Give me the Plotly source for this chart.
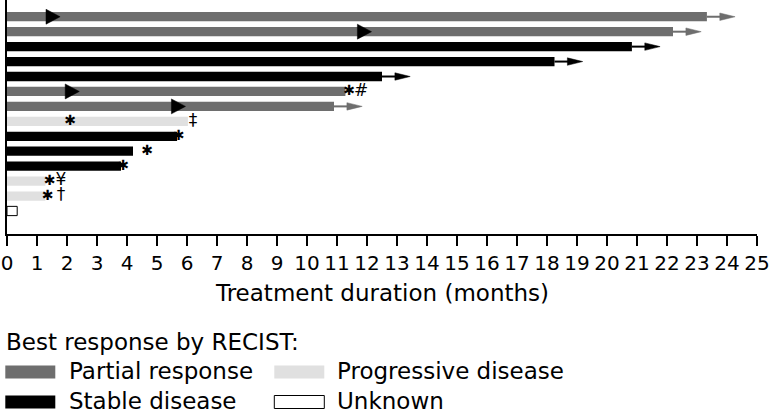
import plotly.graph_objects as go

# ---- data (rows listed top to bottom) ----
patients = list(range(14))
best_response = ["Partial response", "Partial response", "Stable disease", "Stable disease",
                 "Stable disease", "Partial response", "Partial response", "Progressive disease",
                 "Stable disease", "Stable disease", "Stable disease", "Progressive disease",
                 "Progressive disease", "Unknown"]
duration_months = [23.33, 22.2, 20.83, 18.25, 12.5, 11.28, 10.9, 6.03, 5.67, 4.2, 3.8, 1.28, 1.28, 0.34]
ongoing = [True, True, True, True, True, False, True, False, False, False, False, False, False, False]
response_onset = [1.3, 11.68, None, None, None, 1.94, 5.48, None, None, None, None, None, None, None]
star_months = [None, None, None, None, None, 11.4, None, 2.1, 5.72, 4.67, 3.87, 1.42, 1.35, None]
note_symbol = ["", "", "", "", "", "#", "", "\u2021", "", "", "", "\u00a5", "\u2020", ""]
note_months = [None, None, None, None, None, 11.8, None, 6.2, None, None, None, 1.8, 1.8, None]
x_ticks = list(range(0, 26))

# ---- styles ----
FONT = "DejaVu Sans"
colors = {"Partial response": "#6e6e6e", "Stable disease": "#000000",
          "Progressive disease": "#e0e0e0", "Unknown": "#ffffff"}
order = ["Partial response", "Stable disease", "Progressive disease", "Unknown"]
BAR_W = 0.62
ARROW_TAIL = 0.43
ARROW_TIP = 0.94
ARROW_HALF = 0.25
TRI_LEN = 0.47
TRI_HALF = 0.5

fig = go.Figure()

for cat in order:
    xs = [d for d, c in zip(duration_months, best_response) if c == cat]
    ys = [p for p, c in zip(patients, best_response) if c == cat]
    fig.add_trace(go.Bar(
        x=xs, y=ys, orientation="h", width=BAR_W, base=0,
        marker=dict(color=colors[cat],
                    line=dict(color="#000000" if cat == "Unknown" else colors[cat],
                              width=1 if cat == "Unknown" else 0)),
        showlegend=False, hoverinfo="skip"))

# ongoing-treatment arrows
for cat in ["Partial response", "Stable disease"]:
    lx, ly, hx, hy = [], [], [], []
    for p, d, c, o in zip(patients, duration_months, best_response, ongoing):
        if o and c == cat:
            lx += [d, d + ARROW_TAIL + 0.05, None]
            ly += [p, p, None]
            hx += [d + ARROW_TAIL, d + ARROW_TIP, d + ARROW_TAIL, d + ARROW_TAIL, None]
            hy += [p - ARROW_HALF, p, p + ARROW_HALF, p - ARROW_HALF, None]
    fig.add_trace(go.Scatter(x=lx, y=ly, mode="lines", line=dict(color=colors[cat], width=2),
                             showlegend=False, hoverinfo="skip"))
    fig.add_trace(go.Scatter(x=hx, y=hy, mode="lines", fill="toself", fillcolor=colors[cat],
                             line=dict(color=colors[cat], width=0.5),
                             showlegend=False, hoverinfo="skip"))

# response onset triangles
tx, ty = [], []
for p, r in zip(patients, response_onset):
    if r is not None:
        tx += [r, r + TRI_LEN, r, r, None]
        ty += [p - TRI_HALF, p, p + TRI_HALF, p - TRI_HALF, None]
fig.add_trace(go.Scatter(x=tx, y=ty, mode="lines", fill="toself", fillcolor="#000000",
                         line=dict(color="#000000", width=0.5), showlegend=False, hoverinfo="skip"))

# stars
sx = [s for s in star_months if s is not None]
sy = [p for p, s in zip(patients, star_months) if s is not None]
fig.add_trace(go.Scatter(x=sx, y=sy, mode="text", text=["\u2731"] * len(sx),
                         textposition="middle center",
                         textfont=dict(family=FONT, size=14, color="#000000"),
                         showlegend=False, hoverinfo="skip"))
# footnote symbols
nx = [n for n in note_months if n is not None]
ny = [p for p, n in zip(patients, note_months) if n is not None]
nt = [s for s, n in zip(note_symbol, note_months) if n is not None]
fig.add_trace(go.Scatter(x=nx, y=ny, mode="text", text=nt, textposition="middle center",
                         textfont=dict(family=FONT, size=17, color="#000000"),
                         showlegend=False, hoverinfo="skip"))

# ---- custom legend ----
PLOT_H = 234.0
PLOT_W = 750.0
X0 = 6.7
def px(x):
    return (x - X0) / PLOT_W
def py(y):
    return (PLOT_H - y) / PLOT_H

legend_items = [("Partial response", 5, 67, 372), ("Stable disease", 5, 67, 402),
                ("Progressive disease", 274, 335, 372), ("Unknown", 274, 335, 402)]
shapes = []
annotations = []
for name, sx0, tx0, yc in legend_items:
    shapes.append(dict(type="rect", xref="paper", yref="paper",
                       x0=px(sx0), x1=px(sx0 + 50), y0=py(yc + 6.5), y1=py(yc - 6.5),
                       fillcolor=colors[name],
                       line=dict(color="#000000" if name == "Unknown" else colors[name],
                                 width=1 if name == "Unknown" else 0)))
    annotations.append(dict(xref="paper", yref="paper", x=px(tx0), y=py(yc - 1),
                            xanchor="left", yanchor="middle", text=name, showarrow=False,
                            font=dict(family=FONT, size=23, color="#000000")))
annotations.append(dict(xref="paper", yref="paper", x=px(4), y=py(342),
                        xanchor="left", yanchor="middle", text="Best response by RECIST:",
                        showarrow=False, font=dict(family=FONT, size=23, color="#000000")))
annotations.append(dict(xref="paper", yref="paper", x=0.5, y=py(293),
                        xanchor="center", yanchor="middle", text="Treatment duration (months)",
                        showarrow=False, font=dict(family=FONT, size=23, color="#000000")))

fig.update_layout(
    width=773, height=416,
    margin=dict(l=7, r=16, t=0, b=182, autoexpand=False),
    plot_bgcolor="#ffffff", paper_bgcolor="#ffffff",
    barmode="overlay", showlegend=False,
    shapes=shapes, annotations=annotations,
    xaxis=dict(range=[0, 25], tickmode="array", tickvals=x_ticks, ticktext=[str(t) for t in x_ticks],
               showline=True, linecolor="#000000", linewidth=2, ticks="outside", ticklen=10,
               tickwidth=2, tickcolor="#000000", showgrid=False, zeroline=False, automargin=False,
               tickfont=dict(family=FONT, size=20, color="#000000")),
    yaxis=dict(range=[14.54, -1.12], showline=True, linecolor="#000000", linewidth=2,
               automargin=False,
               showticklabels=False, ticks="", showgrid=False, zeroline=False),
)
fig.write_html("out.html", config={"displayModeBar": False},
               post_script="document.body.style.margin='0';document.body.style.overflow='hidden';")
